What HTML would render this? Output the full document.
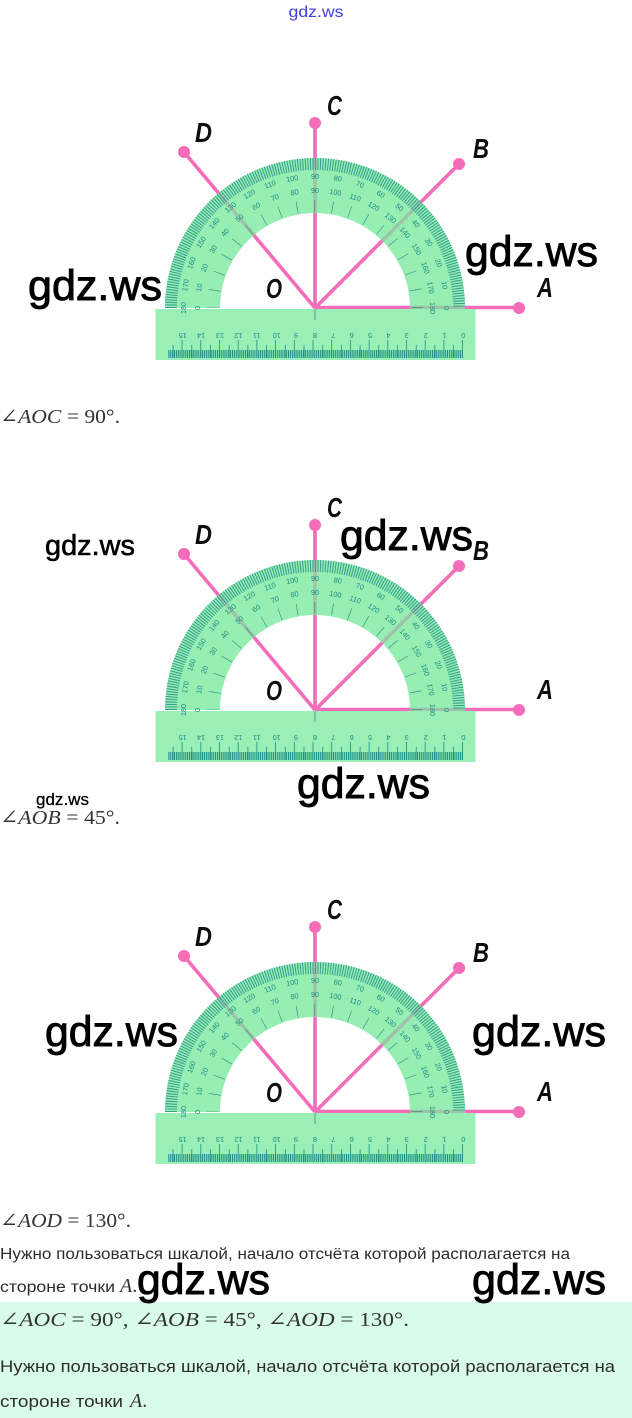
<!DOCTYPE html>
<html><head><meta charset="utf-8"><style>
html,body{margin:0;padding:0;background:#fff}
svg{display:block}
.s{font:7.3px "Liberation Sans",sans-serif;fill:#1e8a80;text-anchor:middle}
.l{font:italic bold 28px "Liberation Sans",sans-serif;fill:#111}
.w{font-family:"Liberation Sans",sans-serif;fill:#000;stroke:#000;stroke-width:.9}
.m{font-family:"Liberation Serif","DejaVu Serif",serif;font-size:20px;fill:#333}
.m tspan{font-style:italic}
.t{font-family:"Liberation Sans","Noto Sans CJK SC",sans-serif;fill:#2c2c2c}
</style></head><body>
<svg xmlns="http://www.w3.org/2000/svg" width="632" height="1418" viewBox="0 0 632 1418">
<defs><filter id="b" x="-5%" y="-5%" width="110%" height="110%"><feGaussianBlur stdDeviation=".35"/></filter></defs>
<rect width="632" height="1418" fill="#fff"/>
<rect y="1302" width="632" height="116" fill="#d9fbe9"/>
<text x="316" y="17" text-anchor="middle" font-family="Liberation Sans,sans-serif" font-size="16" fill="#4040d8" textLength="55" lengthAdjust="spacingAndGlyphs">gdz.ws</text>

<g id="p" transform="translate(315,308)" filter="url(#b)">
<g stroke="#f56cb9" stroke-width="3.6" fill="none">
<path d="M0,-.5H204M0,0V-185M0,0L-131,-156M0,0L144,-144"/>
</g>
<g fill="#f56cb9"><circle cx="204" cy="0" r="6"/><circle cx="0" cy="-185" r="6"/><circle cx="-131" cy="-156" r="6"/><circle cx="144" cy="-144" r="6"/></g>
<path d="M-150,0A150,150 0 0 1 150,0L95,0A95,95 0 0 0 -95,0Z" fill="#96eeb3"/>
<path d="M95,-.5H150M0,-95V-150M-61,-72.8L-96.4,-114.9M67.2,-67.2L106,-106" stroke="#9dc4a8" stroke-width="3.6" fill="none"/>
<path d="M-144,0A144,144 0 0 1 144,0" pathLength="180" fill="none" stroke="#339c8e" stroke-width="12" stroke-dasharray=".4 .6"/>
<path d="M-102,0A102,102 0 0 1 102,0" pathLength="180" fill="none" stroke="#2b8c80" stroke-width="12" stroke-dasharray=".35 9.65" stroke-dashoffset=".17"/>
<path d="M-159.5,1H160.5V52H-159.5Z" fill="#99efb5"/>
<path d="M0,1V12" stroke="#5a9e8c" stroke-width="1"/>
<path d="M148,46H-147" stroke="#1f8f88" stroke-width="8" stroke-dasharray="1.05 .82" fill="none"/>
<path d="M148,41H-147" stroke="#1f8f88" stroke-width="18" stroke-dasharray=".8 17.9" fill="none"/>
<path d="M139,43.5H-147" stroke="#1f8f88" stroke-width="13" stroke-dasharray=".8 17.9" fill="none"/>
<g class="s">
<text transform="rotate(-90) translate(0,-129)">180</text><text transform="rotate(-80) translate(0,-129)">170</text><text transform="rotate(-70) translate(0,-129)">160</text><text transform="rotate(-60) translate(0,-129)">150</text><text transform="rotate(-50) translate(0,-129)">140</text><text transform="rotate(-40) translate(0,-129)">130</text><text transform="rotate(-30) translate(0,-129)">120</text><text transform="rotate(-20) translate(0,-129)">110</text><text transform="rotate(-10) translate(0,-129)">100</text><text transform="translate(0,-129)">90</text><text transform="rotate(10) translate(0,-129)">80</text><text transform="rotate(20) translate(0,-129)">70</text><text transform="rotate(30) translate(0,-129)">60</text><text transform="rotate(40) translate(0,-129)">50</text><text transform="rotate(50) translate(0,-129)">40</text><text transform="rotate(60) translate(0,-129)">30</text><text transform="rotate(70) translate(0,-129)">20</text><text transform="rotate(80) translate(0,-129)">10</text><text transform="rotate(90) translate(0,-129)">0</text>
<text transform="rotate(-90) translate(0,-115)">0</text><text transform="rotate(-80) translate(0,-115)">10</text><text transform="rotate(-70) translate(0,-115)">20</text><text transform="rotate(-60) translate(0,-115)">30</text><text transform="rotate(-50) translate(0,-115)">40</text><text transform="rotate(-40) translate(0,-115)">50</text><text transform="rotate(-30) translate(0,-115)">60</text><text transform="rotate(-20) translate(0,-115)">70</text><text transform="rotate(-10) translate(0,-115)">80</text><text transform="translate(0,-115)">90</text><text transform="rotate(10) translate(0,-115)">100</text><text transform="rotate(20) translate(0,-115)">110</text><text transform="rotate(30) translate(0,-115)">120</text><text transform="rotate(40) translate(0,-115)">130</text><text transform="rotate(50) translate(0,-115)">140</text><text transform="rotate(60) translate(0,-115)">150</text><text transform="rotate(70) translate(0,-115)">160</text><text transform="rotate(80) translate(0,-115)">170</text><text transform="rotate(90) translate(0,-115)">180</text>
<text transform="translate(148.3,25) rotate(180)">0</text><text transform="translate(129.3,25) rotate(180)">1</text><text transform="translate(110.7,25) rotate(180)">2</text><text transform="translate(91.7,25) rotate(180)">3</text><text transform="translate(73.3,25) rotate(180)">4</text><text transform="translate(55,25) rotate(180)">5</text><text transform="translate(36.7,25) rotate(180)">6</text><text transform="translate(18.3,25) rotate(180)">7</text><text transform="translate(0,25) rotate(180)">8</text><text transform="translate(-19,25) rotate(180)">9</text><text transform="translate(-38.3,25) rotate(180)">10</text><text transform="translate(-58.3,25) rotate(180)">11</text><text transform="translate(-76.7,25) rotate(180)">12</text><text transform="translate(-95,25) rotate(180)">13</text><text transform="translate(-114,25) rotate(180)">14</text><text transform="translate(-132.3,25) rotate(180)">15</text>
</g>
<g class="l">
<text x="12" y="-193" textLength="15" lengthAdjust="spacingAndGlyphs">C</text>
<text x="-120" y="-166" textLength="17" lengthAdjust="spacingAndGlyphs">D</text>
<text x="158" y="-150" textLength="16" lengthAdjust="spacingAndGlyphs">B</text>
<text x="222" y="-11" textLength="16" lengthAdjust="spacingAndGlyphs">A</text>
<text x="-49" y="-10" textLength="16" lengthAdjust="spacingAndGlyphs">O</text>
</g>
</g>
<use href="#p" y="402"/>
<use href="#p" y="804"/>

<text class="m" x="0" y="423" textLength="120" lengthAdjust="spacingAndGlyphs">∠<tspan>AOC</tspan> = 90°.</text>
<text class="m" x="0" y="824" textLength="120" lengthAdjust="spacingAndGlyphs">∠<tspan>AOB</tspan> = 45°.</text>
<text class="m" x="0" y="1227" textLength="131" lengthAdjust="spacingAndGlyphs">∠<tspan>AOD</tspan> = 130°.</text>
<text class="t" x="0" y="1259" font-size="15.5" textLength="570" lengthAdjust="spacingAndGlyphs">Нужно пользоваться шкалой, начало отсчёта которой располагается на</text>
<text class="t" x="0" y="1292" font-size="15.5" textLength="115" lengthAdjust="spacingAndGlyphs">стороне точки</text>
<text class="m" x="120" y="1292"><tspan>A</tspan>.</text>
<text class="m" x="0" y="1326" textLength="409" lengthAdjust="spacingAndGlyphs">∠<tspan>AOC</tspan> = 90°, ∠<tspan>AOB</tspan> = 45°, ∠<tspan>AOD</tspan> = 130°.</text>
<text class="t" x="0" y="1372" font-size="16.5" textLength="615" lengthAdjust="spacingAndGlyphs">Нужно пользоваться шкалой, начало отсчёта которой располагается на</text>
<text class="t" x="0" y="1407" font-size="16.5" textLength="123" lengthAdjust="spacingAndGlyphs">стороне точки</text>
<text class="m" x="130" y="1407" font-size="20"><tspan>A</tspan>.</text>

<g class="w" font-size="43">
<text x="28" y="300" textLength="134" lengthAdjust="spacingAndGlyphs">gdz.ws</text>
<text x="465" y="266" textLength="133" lengthAdjust="spacingAndGlyphs">gdz.ws</text>
<text x="340" y="550" textLength="133" lengthAdjust="spacingAndGlyphs">gdz.ws</text>
<text x="297" y="798" textLength="133" lengthAdjust="spacingAndGlyphs">gdz.ws</text>
<text x="45" y="1046" textLength="133" lengthAdjust="spacingAndGlyphs">gdz.ws</text>
<text x="472" y="1046" textLength="134" lengthAdjust="spacingAndGlyphs">gdz.ws</text>
<text x="137" y="1294" textLength="133" lengthAdjust="spacingAndGlyphs">gdz.ws</text>
<text x="472" y="1294" textLength="134" lengthAdjust="spacingAndGlyphs">gdz.ws</text>
<text x="45" y="555" font-size="29" textLength="90" lengthAdjust="spacingAndGlyphs" style="stroke-width:.6">gdz.ws</text>
<text x="36" y="805" font-size="17" textLength="53" lengthAdjust="spacingAndGlyphs" style="stroke-width:.3">gdz.ws</text>
</g>
</svg>
</body></html>
